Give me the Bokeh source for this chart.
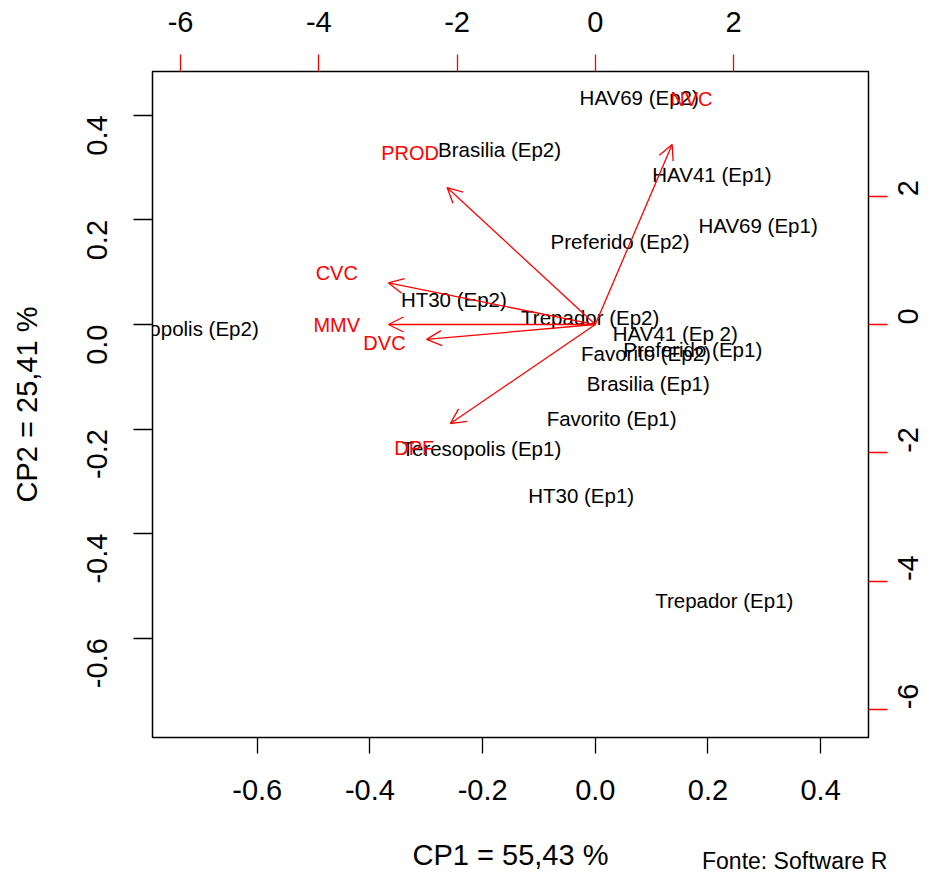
import numpy as np
from bokeh.plotting import figure
from bokeh.models import (Range1d, LinearAxis, FixedTicker, Arrow, OpenHead,
                          ColumnDataSource, NumeralTickFormatter)
from bokeh.core.properties import value
from bokeh.embed import file_html
from bokeh.resources import INLINE

# ---- data ----
# observation scores (CP1, CP2)
obs_names = ["HAV69 (Ep2)", "Brasilia (Ep2)", "HAV41 (Ep1)", "HAV69 (Ep1)", "Preferido (Ep2)",
             "HT30  (Ep2)", "Trepador (Ep2)", "Teresopolis (Ep2)", "HAV41 (Ep 2)", "Preferido (Ep1)",
             "Favorito (Ep2)", "Brasilia (Ep1)", "Favorito (Ep1)", "Teresopolis (Ep1)", "HT30 (Ep1)",
             "Trepador (Ep1)"]
obs_cp1 = [0.078, -0.170, 0.207, 0.289, 0.044, -0.246, -0.009, -0.739, 0.142, 0.173,
           0.090, 0.094, 0.029, -0.202, -0.025, 0.229]
obs_cp2 = [0.435, 0.335, 0.287, 0.189, 0.159, 0.048, 0.013, -0.008, -0.017, -0.048,
           -0.055, -0.113, -0.180, -0.237, -0.327, -0.528]

# variable loadings (secondary scale)
var_names = ["NVC", "PROD", "CVC", "MMV", "DVC", "DPF"]
var_cp1 = [1.39, -2.68, -3.74, -3.74, -3.05, -2.62]
var_cp2 = [3.51, 2.67, 0.81, 0.00, -0.29, -1.93]

main_ticks = [-0.6, -0.4, -0.2, 0.0, 0.2, 0.4]
sec_ticks = [-6, -4, -2, 0, 2]
source_note = "Fonte: Software R"

xlim = (-0.786, 0.485)
ylim = (-0.790, 0.484)
ratio = 8.15
arrow_frac = 0.8
note_x = 0.354  # horizontal centre of the source note, in CP1 units

FONT = "Liberation Sans"
RED = "#FF0000"

p = figure(width=936, height=876, output_backend="svg", toolbar_location=None,
           x_range=Range1d(*xlim), y_range=Range1d(*ylim),
           x_axis_location=None, y_axis_location=None,
           min_border_left=152, min_border_right=68, min_border_top=71, min_border_bottom=139)
p.extra_x_ranges = {"sx": Range1d(xlim[0] * ratio, xlim[1] * ratio)}
p.extra_y_ranges = {"sy": Range1d(ylim[0] * ratio, ylim[1] * ratio)}
p.xgrid.grid_line_color = None
p.ygrid.grid_line_color = None
p.outline_line_color = "black"
p.outline_line_width = 1.5
p.background_fill_color = "white"
p.border_fill_color = "white"


def style(ax, tick_color, out, standoff, size="29px"):
    ax.axis_line_color = None
    ax.major_tick_in = 0
    ax.major_tick_out = out
    ax.major_tick_line_color = tick_color
    ax.major_tick_line_width = 1.3
    ax.minor_tick_line_color = None
    ax.major_label_text_font = FONT
    ax.major_label_text_font_size = size
    ax.major_label_text_color = "black"
    ax.major_label_standoff = standoff
    ax.axis_label_text_font = FONT
    ax.axis_label_text_font_size = "29px"
    ax.axis_label_text_font_style = "normal"
    ax.axis_label_text_color = "black"


bottom = LinearAxis(ticker=FixedTicker(ticks=main_ticks), formatter=NumeralTickFormatter(format="0.0"),
                    axis_label="CP1 = 55,43 %")
style(bottom, "black", 16, 26)
bottom.axis_label_standoff = 36
p.add_layout(bottom, "below")

# source note, drawn as the single label of a bare second bottom axis
note_axis = LinearAxis(ticker=FixedTicker(ticks=[note_x]),
                       major_label_overrides={note_x: source_note})
style(note_axis, None, 0, -26, size="23px")
note_axis.major_tick_line_color = None
p.add_layout(note_axis, "below")

left = LinearAxis(ticker=FixedTicker(ticks=main_ticks), formatter=NumeralTickFormatter(format="0.0"),
                  axis_label="CP2 = 25,41 %")
style(left, "black", 19, 36)
left.major_label_orientation = np.pi / 2
left.axis_label_standoff = 32
p.add_layout(left, "left")

top = LinearAxis(x_range_name="sx", ticker=FixedTicker(ticks=sec_ticks),
                 formatter=NumeralTickFormatter(format="0"))
style(top, RED, 17, 23)
p.add_layout(top, "above")

right = LinearAxis(y_range_name="sy", ticker=FixedTicker(ticks=sec_ticks),
                   formatter=NumeralTickFormatter(format="0"))
style(right, RED, 19, 21)
right.major_label_orientation = np.pi / 2
p.add_layout(right, "right")

# observations
obs_src = ColumnDataSource(dict(x=obs_cp1, y=obs_cp2, name=obs_names))
p.text(x="x", y="y", text="name", source=obs_src, text_align="center", text_baseline="middle",
       text_font=value(FONT), text_font_size="20.5px", text_color="black")

# variables
v1 = np.array(var_cp1)
v2 = np.array(var_cp2)
var_src = ColumnDataSource(dict(x=var_cp1, y=var_cp2, name=var_names,
                                x0=[0] * len(var_names), y0=[0] * len(var_names),
                                x1=list(v1 * arrow_frac), y1=list(v2 * arrow_frac)))
p.text(x="x", y="y", text="name", source=var_src, x_range_name="sx", y_range_name="sy",
       text_align="center", text_baseline="middle",
       text_font=value(FONT), text_font_size="20px", text_color=RED)
p.add_layout(Arrow(source=var_src, x_start="x0", y_start="y0", x_end="x1", y_end="y1",
                   x_range_name="sx", y_range_name="sy",
                   line_color=RED, line_width=1.3,
                   end=OpenHead(size=15, line_color=RED, line_width=1.3)))

open("out.html", "w").write(file_html(p, INLINE))
